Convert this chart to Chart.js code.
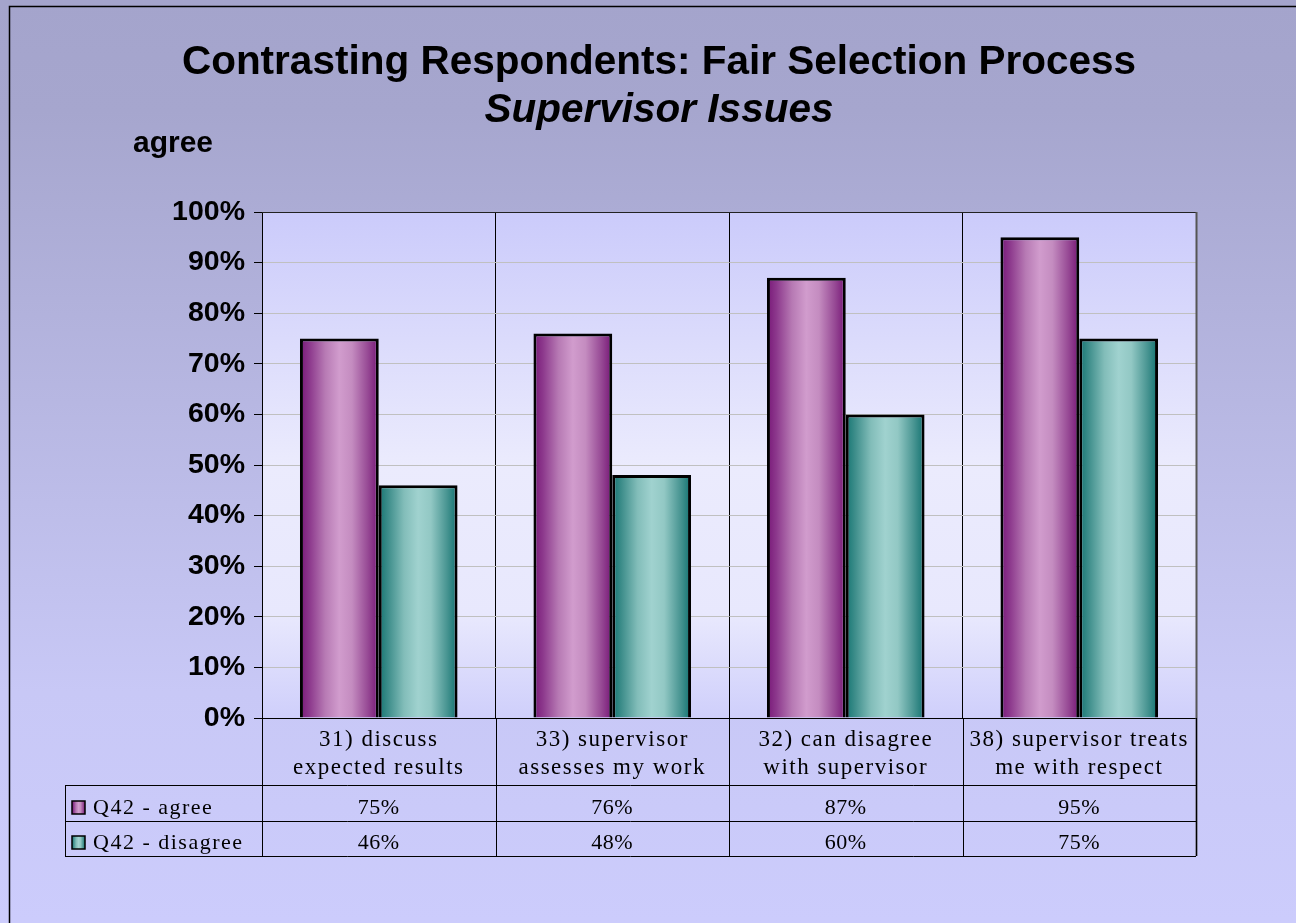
<!DOCTYPE html>
<html>
<head>
<meta charset="utf-8">
<script src="https://cdn.jsdelivr.net/npm/chart.js@4.4.1/dist/chart.umd.min.js"></script>
<style>
  html, body { margin: 0; padding: 0; background: #ccccfc; }
  canvas { display: block; }
</style>
</head>
<body>
<canvas id="supervisorChart" width="1296" height="923"></canvas>
<script>
// chart values
const categories = [
  ['31) discuss', 'expected results'],
  ['33) supervisor', 'assesses my work'],
  ['32) can disagree', 'with supervisor'],
  ['38) supervisor treats', 'me with respect']
];
const seriesNames = ['Q42 - agree', 'Q42 - disagree'];
const agreeValues = [75, 76, 87, 95];
const disagreeValues = [46, 48, 60, 75];
const yTicks = [0, 10, 20, 30, 40, 50, 60, 70, 80, 90, 100];

const CAT_PCT = 0.675;
const serif = '"Liberation Serif", "Times New Roman", serif';
const sans = '"Liberation Sans", Arial, sans-serif';

const barStops = [
  [[0, '#781878'], [0.12, '#8c388c'], [0.32, '#b77ab4'], [0.5, '#d19ccd'], [0.66, '#c48cc0'], [0.86, '#974a95'], [1, '#761676']],
  [[0, '#157572'], [0.12, '#3e8e8b'], [0.32, '#82bdb9'], [0.5, '#a0d2cf'], [0.66, '#92c8c4'], [0.86, '#4a9693'], [1, '#127270']]
];

function gradientFor(c, left, width, idx) {
  const g = c.createLinearGradient(left, 0, left + width, 0);
  barStops[idx].forEach(function (s) { g.addColorStop(s[0], s[1]); });
  return g;
}

function barFill(context) {
  const chart = context.chart;
  const x = chart.scales.x;
  const fallback = context.datasetIndex === 0 ? '#c68dc2' : '#92c8c4';
  if (context.type !== 'data' || !x) return fallback;
  const center = x.getPixelForValue(context.dataIndex);
  const barW = x.width / categories.length * CAT_PCT / 2;
  if (!Number.isFinite(center) || !Number.isFinite(barW) || barW <= 0) return fallback;
  const left = context.datasetIndex === 0 ? center - barW : center;
  return gradientFor(chart.ctx, left, barW, context.datasetIndex);
}

const backdrop = {
  id: 'backdrop',
  beforeDraw: function (chart) {
    const c = chart.ctx;
    const a = chart.chartArea;
    c.save();
    const bg = c.createLinearGradient(0, 0, 0, chart.height);
    bg.addColorStop(0, '#a4a4cc');
    bg.addColorStop(0.12, '#a6a6ce');
    bg.addColorStop(0.75, '#c8c8f6');
    bg.addColorStop(1, '#ccccfc');
    c.fillStyle = bg;
    c.fillRect(0, 0, chart.width, chart.height);

    const pg = c.createLinearGradient(0, a.top, 0, a.bottom);
    pg.addColorStop(0, '#cbcbfb');
    pg.addColorStop(0.5, '#ebebfd');
    pg.addColorStop(0.8, '#e8e8fd');
    pg.addColorStop(1, '#cfcffb');
    c.fillStyle = pg;
    c.fillRect(a.left, a.top, a.right - a.left, a.bottom - a.top);
    c.restore();
  },
  afterDraw: function (chart) {
    const c = chart.ctx;
    const a = chart.chartArea;
    const x = chart.scales.x;
    const n = categories.length;
    const catW = x.width / n;
    const rowTop = a.bottom;
    const row1 = 785, row2 = 821, row3 = 856;
    const tableLeft = 65;

    c.save();
    // outer frame
    c.strokeStyle = '#000';
    c.lineWidth = 1.5;
    c.strokeRect(9.5, 6.5, 1400, 1000);

    // plot frame
    c.lineWidth = 1;
    c.strokeStyle = '#222';
    c.beginPath();
    c.moveTo(a.left, a.top + 0.5);
    c.lineTo(a.right, a.top + 0.5);
    c.stroke();
    c.strokeStyle = '#555';
    c.lineWidth = 2;
    c.beginPath();
    c.moveTo(a.right + 0.5, a.top);
    c.lineTo(a.right + 0.5, row3);
    c.stroke();

    // data table lines
    c.strokeStyle = '#000';
    c.lineWidth = 1;
    c.beginPath();
    [row1, row2, row3].forEach(function (y) {
      c.moveTo(tableLeft, y + 0.5);
      c.lineTo(a.right, y + 0.5);
    });
    c.moveTo(tableLeft + 0.5, row1);
    c.lineTo(tableLeft + 0.5, row3);
    for (let i = 0; i <= n; i++) {
      const lx = Math.round(a.left + i * catW) + 0.5;
      c.moveTo(lx, rowTop);
      c.lineTo(lx, row3);
    }
    c.stroke();

    // category labels
    c.fillStyle = '#000';
    c.textAlign = 'center';
    c.font = '23px ' + serif;
    c.letterSpacing = '1.5px';
    categories.forEach(function (lines, i) {
      const cx = x.getPixelForValue(i);
      c.fillText(lines[0], cx, 746);
      c.fillText(lines[1], cx, 774);
    });

    // values
    c.font = '22px ' + serif;
    c.letterSpacing = '0.5px';
    const rows = [agreeValues, disagreeValues];
    const baselines = [814, 849];
    rows.forEach(function (vals, r) {
      vals.forEach(function (v, i) {
        c.fillText(v + '%', x.getPixelForValue(i), baselines[r]);
      });
    });

    // legend keys
    c.textAlign = 'left';
    c.font = '22px ' + serif;
    c.letterSpacing = '1.5px';
    seriesNames.forEach(function (name, r) {
      const sy = baselines[r] - 13;
      c.fillStyle = gradientFor(c, 72, 13, r);
      c.fillRect(72, sy, 13, 13);
      c.strokeStyle = '#000';
      c.lineWidth = 1.5;
      c.strokeRect(72, sy, 13, 13);
      c.fillStyle = '#000';
      c.fillText(name, 93, baselines[r]);
    });

    // titles
    c.letterSpacing = '0px';
    c.textAlign = 'center';
    c.font = 'bold 40.5px ' + sans;
    c.fillText('Contrasting Respondents: Fair Selection Process', 659, 74);
    c.font = 'italic bold 40.5px ' + sans;
    c.fillText('Supervisor Issues', 659, 122);
    c.textAlign = 'left';
    c.font = 'bold 30px ' + sans;
    c.fillText('agree', 133, 152);
    c.restore();
  }
};

new Chart(document.getElementById('supervisorChart').getContext('2d'), {
  type: 'bar',
  data: {
    labels: categories,
    datasets: [
      {
        label: seriesNames[0],
        data: agreeValues,
        backgroundColor: barFill,
        borderColor: '#000',
        borderWidth: 3
      },
      {
        label: seriesNames[1],
        data: disagreeValues,
        backgroundColor: barFill,
        borderColor: '#000',
        borderWidth: 3
      }
    ]
  },
  plugins: [backdrop],
  options: {
    responsive: false,
    animation: false,
    layout: {
      padding: { top: 212, right: 100, left: 0, bottom: 0 }
    },
    datasets: {
      bar: { categoryPercentage: CAT_PCT, barPercentage: 1.0 }
    },
    plugins: {
      legend: { display: false },
      tooltip: { enabled: false },
      title: { display: false }
    },
    scales: {
      x: {
        afterFit: function (scale) { scale.height = 205; },
        ticks: { display: false },
        grid: { offset: true, color: '#000', drawTicks: false },
        border: { color: '#000', width: 1 }
      },
      y: {
        min: 0,
        max: 100,
        afterFit: function (scale) { scale.width = 262; },
        afterBuildTicks: function (scale) {
          scale.ticks = yTicks.map(function (v) { return { value: v }; });
        },
        ticks: {
          padding: 9,
          color: '#000',
          font: { family: sans, size: 28.5, weight: 'bold' },
          callback: function (value) { return value + '%'; }
        },
        grid: { color: '#c0c0c0', tickColor: '#000', tickLength: 8 },
        border: { color: '#000', width: 1 }
      }
    }
  }
});
</script>
</body>
</html>
